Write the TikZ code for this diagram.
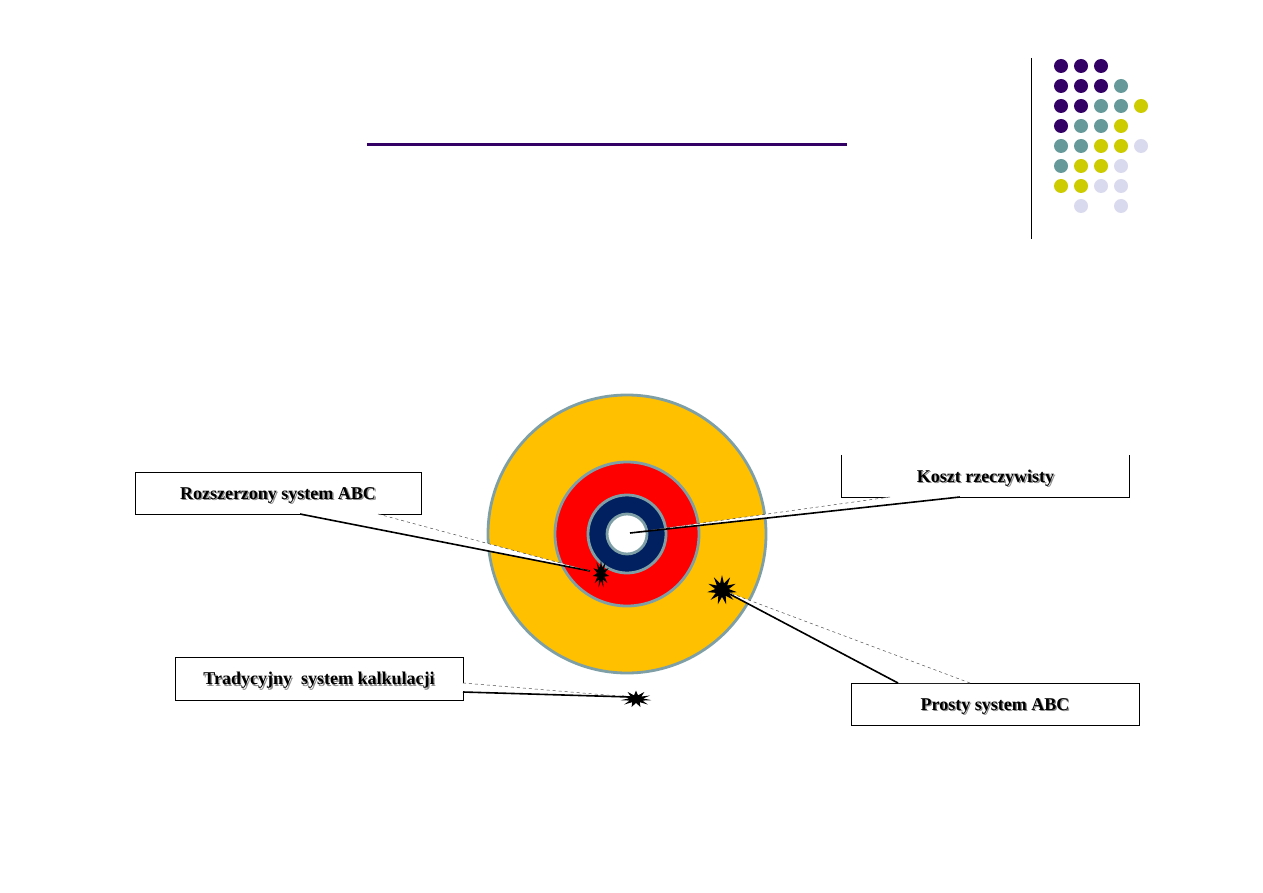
\documentclass[tikz,border=0pt]{standalone}
\usepackage{fontspec}
\setmainfont{Liberation Serif}
\usetikzlibrary{shapes.geometric}
\definecolor{dpurple}{HTML}{330066}
\definecolor{dteal}{HTML}{669999}
\definecolor{dyellow}{HTML}{CCCC00}
\definecolor{dlav}{HTML}{DADAEE}
\definecolor{ringgray}{HTML}{7F9FA6}
\definecolor{gold}{HTML}{FFC000}
\definecolor{navy}{HTML}{002060}
\tikzset{
  dotP/.style={circle,fill=dpurple,inner sep=0pt,minimum size=14pt},
  dotT/.style={circle,fill=dteal,inner sep=0pt,minimum size=14pt},
  dotY/.style={circle,fill=dyellow,inner sep=0pt,minimum size=14pt},
  dotL/.style={circle,fill=dlav,inner sep=0pt,minimum size=14pt},
  ring/.style={circle,draw=ringgray,line width=2.8pt,inner sep=0pt},
  labelbox/.style={draw=black,line width=1pt,fill=white,minimum width=286pt,minimum height=42pt,inner sep=0pt},
  lbltext/.style={font=\bfseries\fontsize{18}{21}\selectfont},
  burst/.style={star,star points=11,star point ratio=2.2,fill=black,inner sep=0pt,minimum size=24pt},
  wedgesolid/.style={draw=black,line width=1.6pt},
  wedgethin/.style={draw=black!70,line width=0.5pt,dashed},
}
\newcommand{\shtext}[2]{\node[lbltext,text=black!45] at ([xshift=1.3pt,yshift=-3.3pt]#1) {#2};\node[lbltext] at ([yshift=-2pt]#1) {#2};}
\begin{document}
\begin{tikzpicture}[x=1pt,y=-1pt]
\useasboundingbox[fill=white] (0,0) rectangle (1263,893);
% title rule and side rule
\coordinate (tl) at (367,145); \coordinate (tr) at (847,145);
\draw[dpurple,line width=3pt] (tl) -- (tr);
\coordinate (vt) at (1031,58); \coordinate (vb) at (1031,239);
\draw[black,line width=1pt] (vt) -- (vb);
% dots
\foreach \c/\r/\s in {1/1/P,2/1/P,3/1/P,
  1/2/P,2/2/P,3/2/P,4/2/T,
  1/3/P,2/3/P,3/3/T,4/3/T,5/3/Y,
  1/4/P,2/4/T,3/4/T,4/4/Y,
  1/5/T,2/5/T,3/5/Y,4/5/Y,5/5/L,
  1/6/T,2/6/Y,3/6/Y,4/6/L,
  1/7/Y,2/7/Y,3/7/L,4/7/L,
  2/8/L,4/8/L}
  \node[dot\s] (d\c\r) at ({1041+20*\c},{46+20*\r}) {};
% target
\node[ring,fill=gold,minimum size=278pt] (outer) at (627,534) {};
\node[ring,fill=red,minimum size=144pt] (redc) at (627,534) {};
\node[ring,fill=navy,minimum size=78pt] (navyc) at (627,534) {};
\node[ring,fill=white,minimum size=40pt] (core) at (627,534) {};
% boxes
\node[labelbox] (b1) at (278,493) {};
\shtext{b1}{Rozszerzony system ABC}
\node[minimum width=287pt,minimum height=42pt,inner sep=0pt] (b2) at (985.5,476) {};
\draw[black,line width=1pt] (b2.north west) -- (b2.south west) -- (b2.south east) -- (b2.north east);
\shtext{b2}{Koszt rzeczywisty}
\node[labelbox,minimum width=288pt,minimum height=43pt] (b3) at (319,678.5) {};
\shtext{b3}{Tradycyjny\ \ system kalkulacji}
\node[labelbox,minimum width=288pt] (b4) at (995,704) {};
\shtext{b4}{Prosty system ABC}
% callout tips
\coordinate (t1) at (590,571);
\coordinate (t2) at (630,533);
\coordinate (t3) at (630,697);
\coordinate (t4) at (722,590);
% wedges
\coordinate (w1a) at (300,514); \coordinate (w1b) at (378,514);
\fill[white] (w1a) -- (t1) -- (w1b) -- cycle;
\draw[wedgesolid] (w1a) -- (t1);
\draw[wedgethin] (w1b) -- (t1);
\coordinate (w2a) at (890,497); \coordinate (w2b) at (960,497);
\fill[white] (w2a) -- (t2) -- (w2b) -- cycle;
\draw[wedgethin] (w2a) -- (t2);
\draw[wedgesolid] (w2b) -- (t2);
\coordinate (w3a) at (463,683); \coordinate (w3b) at (463,692);
\fill[white] (w3a) -- (t3) -- (w3b) -- cycle;
\draw[wedgethin] (w3a) -- (t3);
\draw[wedgesolid] (w3b) -- (t3);
\coordinate (w4a) at (898,683); \coordinate (w4b) at (970,683);
\fill[white] (w4a) -- (t4) -- (w4b) -- cycle;
\draw[wedgesolid] (w4a) -- (t4);
\draw[wedgethin] (w4b) -- (t4);
% bursts
\node[burst,minimum size=28pt,xscale=0.6] (s1) at (601,574) {};
\node[burst,minimum size=24pt,xscale=1.3,yscale=0.7] (s3) at (636,699) {};
\node[burst,minimum size=30pt] (s4) at (722,590) {};
\end{tikzpicture}
\end{document}
